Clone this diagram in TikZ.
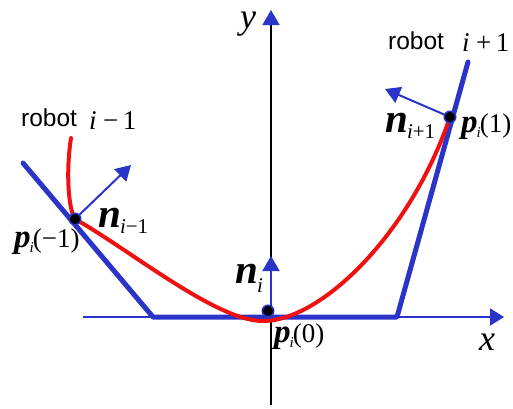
\documentclass[tikz,border=0pt]{standalone}
\usepackage{fontspec}
\setmainfont{Liberation Serif}
\newfontfamily\sansf{Liberation Sans}
\usetikzlibrary{arrows.meta}
\definecolor{rbblue}{RGB}{42,52,200}
\definecolor{rbred}{RGB}{240,16,16}
\newcommand{\fs}[1]{\fontsize{#1}{#1}\selectfont}
\newcommand{\bvec}[1]{{\fs{41}\bfseries\itshape #1}}
\newcommand{\pvec}[1]{{\fs{33}\bfseries\itshape p}\kern-1pt\raisebox{-5pt}{\fs{15}\itshape i}\kern-1pt{\fs{27}(#1)}}
\begin{document}
\begin{tikzpicture}[x=1pt,y=-1pt,
  thickblue/.style={draw=rbblue,line width=5pt,line cap=round,line join=round},
  axisx/.style={draw=rbblue,line width=2pt,-{Triangle[length=14pt,width=17pt]}},
  axisy/.style={draw=black,line width=1.5pt,-{Triangle[length=15pt,width=17pt,color=rbblue]}},
  normal/.style={draw=rbblue,line width=2pt,-{Triangle[length=15pt,width=17pt]}},
  curve/.style={draw=rbred,line width=4pt,line cap=round},
  dot/.style={circle,fill=black,draw=rbblue,line width=1.5pt,minimum size=11.5pt,inner sep=0pt},
  lbl/.style={anchor=base west,inner sep=0pt}]
\useasboundingbox (0,0) rectangle (513,408);
% axes
\coordinate (xs) at (83,317);
\coordinate (xe) at (504,317);
\coordinate (ys) at (271,405);
\coordinate (ye) at (271,10);
\draw[axisx] (xs) -- (xe);
\draw[axisy] (ys) -- (ye);
% robot boundary
\coordinate (la) at (23,163);
\coordinate (lb) at (153,317);
\coordinate (rb) at (397,317);
\coordinate (ra) at (468,62);
\draw[thickblue] (la) -- (lb) -- (rb) -- (ra);
% points
\coordinate (cs) at (71,138);
\coordinate (cm) at (262,321);
\coordinate (pmc) at (75,219);
\coordinate (ppc) at (450,117);
% red curve
\draw[curve] (cs) .. controls (66,170) and (68,208) .. (pmc)
  .. controls (130,250) and (215,320) .. (cm)
  .. controls (320,322) and (410,235) .. (ppc);
% normals
\coordinate (nmt) at (131,165);
\coordinate (n0t) at (271,256);
\coordinate (npt) at (385,89);
\coordinate (n0s) at (271,305);
\draw[normal] (pmc) -- (nmt);
\draw[normal] (n0s) -- (n0t);
\draw[normal] (ppc) -- (npt);
% dots
\node[dot] (pm) at (pmc) {};
\node[dot] (p0) at (268,311) {};
\node[dot] (pp) at (ppc) {};
% labels
\node[lbl] (rl) at (21,126) {\sansf\fs{24.5}robot};
\node[lbl] (rli) at (89,129) {\fs{27}\itshape i\kern2pt\upshape\,−\,1};
\node[lbl] (rr) at (388,49) {\sansf\fs{24.5}robot};
\node[lbl] (rri) at (462,51) {\fs{27}\itshape i\kern2pt\upshape\,+\,1};
\node[lbl] (ylab) at (240,28) {\fs{36}\itshape y};
\node[lbl] (xlab) at (479,350) {\fs{36}\itshape x};
\node[lbl] (nml) at (98,227) {\bvec{n}\kern-1pt\raisebox{-6pt}{\fs{21}\itshape i\upshape−1}};
\node[lbl] (n0l) at (235,283) {\bvec{n}\kern-1pt\raisebox{-9pt}{\fs{21}\itshape i}};
\node[lbl] (npl) at (385,132) {\bvec{n}\kern-1pt\raisebox{-6pt}{\fs{21}\itshape i\upshape+1}};
\node[lbl] (pml) at (14,247) {\pvec{−1}};
\node[lbl] (p0l) at (274,342) {\pvec{0}};
\node[lbl] (ppl) at (461,132) {\pvec{1}};
\end{tikzpicture}
\end{document}
